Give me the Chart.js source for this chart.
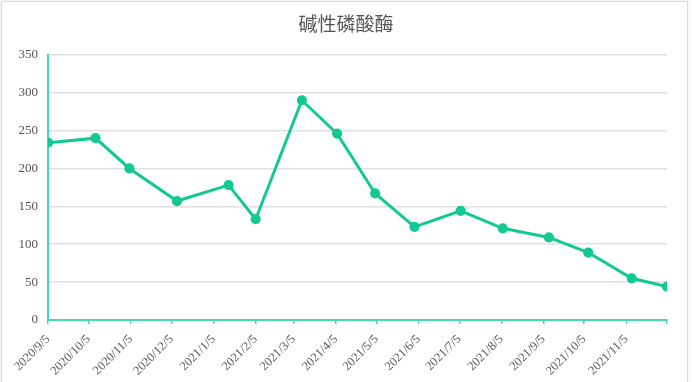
<!DOCTYPE html>
<html>
<head>
<meta charset="utf-8">
<script src="https://cdn.jsdelivr.net/npm/chart.js@4"></script>
<style>
  html, body { margin: 0; padding: 0; background: #fff; }
  #wrap { position: relative; width: 692px; height: 382px; }
  #frame { position: absolute; left: 1px; top: 1px; width: 685px; height: 390px; border: 1px solid #dcdcdc; box-shadow: 0 0 3px rgba(0,0,0,0.12); pointer-events: none; }
  canvas { position: absolute; left: 0; top: 0; }
</style>
</head>
<body>
<div id="wrap">
  <canvas id="c" width="692" height="382"></canvas>
  <div id="frame"></div>
</div>
<script>
const chartTitle = '碱性磷酸酶';
const dates = ['2020/9/5','2020/10/10','2020/11/4','2020/12/9','2021/1/16','2021/2/5','2021/3/11','2021/4/6',
               '2021/5/4','2021/6/2','2021/7/6','2021/8/6','2021/9/9','2021/10/8','2021/11/9','2021/12/5'];
const values = [234, 240, 200, 157, 178, 133, 290, 246, 167, 123, 144, 121, 109, 89, 55, 44];
const tickDates = ['2020/9/5','2020/10/5','2020/11/5','2020/12/5','2021/1/5','2021/2/5','2021/3/5','2021/4/5',
                   '2021/5/5','2021/6/5','2021/7/5','2021/8/5','2021/9/5','2021/10/5','2021/11/5','2021/12/5'];
const tickLabels = ['2020/9/5','2020/10/5','2020/11/5','2020/12/5','2021/1/5','2021/2/5','2021/3/5','2021/4/5',
                    '2021/5/5','2021/6/5','2021/7/5','2021/8/5','2021/9/5','2021/10/5','2021/11/5',''];
const yTicks = [0, 50, 100, 150, 200, 250, 300, 350];

function toDay(s) {
  const p = s.split('/').map(Number);
  return Date.UTC(p[0], p[1] - 1, p[2]) / 86400000;
}
const pts = dates.map((d, i) => ({ x: toDay(d), y: values[i] }));
const tickVals = tickDates.map(toDay);

const green = '#12c994';
const axisGreen = '#3fdcb2';
const serif = "'Liberation Serif', 'DejaVu Serif', serif";

new Chart(document.getElementById('c'), {
  type: 'line',
  data: {
    datasets: [{
      data: pts,
      borderColor: green,
      backgroundColor: green,
      borderWidth: 3,
      pointRadius: 3.6,
      pointBackgroundColor: green,
      pointBorderColor: green,
      tension: 0,
      fill: false
    }]
  },
  options: {
    responsive: false,
    animation: false,
    events: [],
    layout: { padding: { left: 0, right: 0, top: 0, bottom: 0 } },
    plugins: {
      legend: { display: false },
      tooltip: { enabled: false },
      title: {
        display: true,
        text: chartTitle,
        color: '#555',
        font: { family: "'Noto Sans CJK SC', sans-serif", size: 19, weight: 'normal' },
        padding: { top: 12, bottom: 20 }
      }
    },
    scales: {
      x: {
        type: 'linear',
        min: tickVals[0],
        max: tickVals[tickVals.length - 1],
        afterBuildTicks: (s) => { s.ticks = tickVals.map(v => ({ value: v })); },
        afterFit: (s) => { s.height = 62; s.paddingRight = 25; s.paddingLeft = 0; },
        grid: { display: true, drawOnChartArea: false, drawTicks: true, tickLength: 4, color: axisGreen, lineWidth: 1.5 },
        border: { display: true, color: axisGreen, width: 2 },
        ticks: {
          autoSkip: false,
          minRotation: 45,
          maxRotation: 45,
          padding: 8,
          color: '#555',
          font: { family: serif, size: 12.5 },
          callback: (v, i) => tickLabels[i]
        }
      },
      y: {
        min: 0,
        max: 350,
        afterBuildTicks: (s) => { s.ticks = yTicks.map(v => ({ value: v })); },
        afterFit: (s) => { s.width = 48; },
        grid: { color: '#e0e0e0', lineWidth: 1.5, drawTicks: false },
        border: { display: true, color: axisGreen, width: 2 },
        ticks: {
          padding: 10,
          color: '#555',
          font: { family: serif, size: 13 }
        }
      }
    }
  }
});
</script>
</body>
</html>
